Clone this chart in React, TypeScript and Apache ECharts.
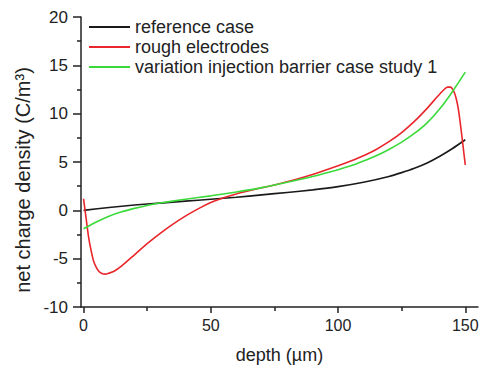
import React, { useEffect, useRef } from "react";
import * as echarts from "echarts";

const seriesNames = [
  "reference case",
  "rough electrodes",
  "variation injection barrier case study 1",
];

const referenceCase: [number, number][] = [
  [0, 0], [10, 0.3], [20, 0.55], [30, 0.75], [40, 0.95], [50, 1.15], [60, 1.35],
  [70, 1.6], [80, 1.85], [90, 2.12], [100, 2.45], [110, 2.9], [120, 3.5],
  [125, 3.9], [130, 4.35], [135, 4.9], [140, 5.6], [145, 6.4], [150, 7.3],
];

const roughElectrodes: [number, number][] = [
  [0, 1.2], [1, -0.8], [2, -2.8], [3, -4.2], [4, -5.3], [5, -5.9], [6, -6.3],
  [7, -6.5], [8.5, -6.6], [10, -6.5], [12, -6.3], [15, -5.75], [20, -4.6],
  [25, -3.45], [30, -2.4], [35, -1.45], [40, -0.6], [45, 0.15], [50, 0.8],
  [55, 1.3], [60, 1.7], [65, 2.03], [70, 2.33], [75, 2.62], [80, 2.95],
  [90, 3.7], [100, 4.6], [105, 5.1], [110, 5.65], [115, 6.3], [120, 7.1],
  [125, 8.05], [130, 9.2], [135, 10.55], [139, 11.75], [141.5, 12.45],
  [143, 12.75], [144.2, 12.75], [145.3, 12.4], [146.3, 11.7], [147.2, 10.6],
  [148, 9.1], [148.8, 7.4], [149.5, 5.8], [150, 4.7],
];

const injectionBarrier: [number, number][] = [
  [0, -1.9], [5, -1.2], [10, -0.6], [15, -0.15], [20, 0.2], [25, 0.5],
  [30, 0.75], [40, 1.15], [50, 1.5], [60, 1.9], [70, 2.35], [80, 2.9],
  [90, 3.5], [100, 4.2], [105, 4.6], [110, 5.1], [115, 5.65], [120, 6.3],
  [125, 7.05], [130, 7.95], [135, 9.05], [140, 10.5], [145, 12.3], [150, 14.3],
];

const xMajorTicks = [0, 50, 100, 150];
const xMinorTicks = [25, 75, 125];
const colors = ["#1a1a1a", "#e8262b", "#3ada3a"];

const FONT = "'Liberation Sans', Arial, sans-serif";

export default function App() {
  const ref = useRef<HTMLDivElement>(null);
  useEffect(() => {
    document.body.style.margin = "0";
    if (!ref.current) return;
    const chart = echarts.init(ref.current, undefined, { renderer: "svg" });
    const axisColor = "#222";
    const allData = [referenceCase, roughElectrodes, injectionBarrier];
    chart.setOption({
      animation: false,
      textStyle: { fontFamily: FONT },
      grid: { left: 81, right: 10, top: 17, bottom: 60 },
      legend: {
        orient: "vertical",
        left: 89,
        top: 18,
        padding: 0,
        icon: "rect",
        itemWidth: 41,
        itemHeight: 2,
        itemGap: 2,
        textStyle: { fontSize: 18, color: "#222", fontFamily: FONT },
        data: seriesNames,
      },
      xAxis: [
        {
          type: "value",
          min: -1,
          max: 155,
          name: "depth (µm)",
          nameLocation: "middle",
          nameGap: 39,
          nameTextStyle: { fontSize: 18, color: "#222", fontFamily: FONT },
          axisLine: { onZero: false, lineStyle: { color: axisColor, width: 1.5 } },
          axisTick: { customValues: xMajorTicks, length: 6, lineStyle: { color: axisColor, width: 1.5 } },
          axisLabel: { customValues: xMajorTicks, fontSize: 16, color: "#222", margin: 10, fontFamily: FONT },
          splitLine: { show: false },
        },
        {
          type: "value",
          min: -1,
          max: 155,
          position: "bottom",
          axisLine: { show: false, onZero: false },
          axisTick: { customValues: xMinorTicks, length: 4, lineStyle: { color: axisColor, width: 1.5 } },
          axisLabel: { show: false },
          splitLine: { show: false },
        },
      ],
      yAxis: {
        type: "value",
        min: -10,
        max: 20,
        interval: 5,
        name: "net charge density (C/m³)",
        nameLocation: "middle",
        nameGap: 33,
        nameRotate: 90,
        nameTextStyle: { fontSize: 20, color: "#222", fontFamily: FONT, padding: [0, 36, 0, 0] },
        axisLine: { onZero: false, lineStyle: { color: axisColor, width: 1.5 } },
        axisTick: { length: 8, lineStyle: { color: axisColor, width: 1.5 } },
        minorTick: { show: true, splitNumber: 2, length: 4, lineStyle: { color: axisColor, width: 1.5 } },
        axisLabel: { fontSize: 17, color: "#222", margin: 13, fontFamily: FONT },
        splitLine: { show: false },
        minorSplitLine: { show: false },
      },
      series: seriesNames.map((name, i) => ({
        name,
        type: "line",
        xAxisIndex: 0,
        data: allData[i],
        symbol: "none",
        smooth: 0.25,
        lineStyle: { color: colors[i], width: 1.6 },
        itemStyle: { color: colors[i] },
      })),
    });
    return () => chart.dispose();
  }, []);
  return <div ref={ref} style={{ width: 488, height: 369 }} />;
}
